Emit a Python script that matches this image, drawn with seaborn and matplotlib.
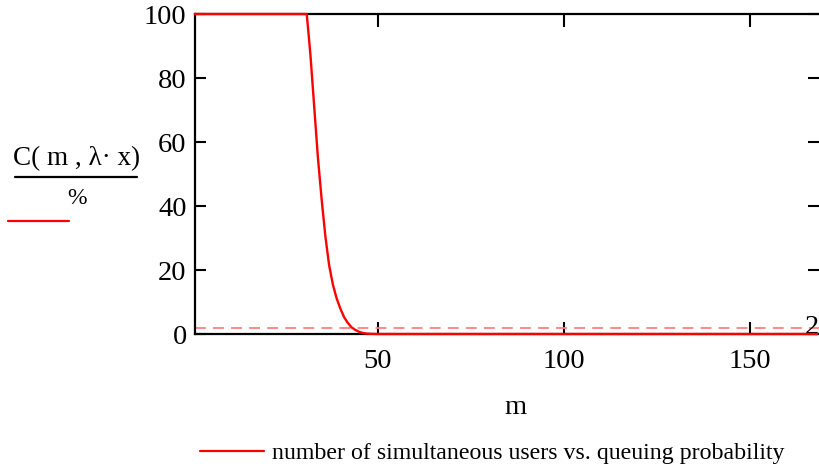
import numpy as np
import pandas as pd
import matplotlib
matplotlib.use("Agg")
import matplotlib.pyplot as plt
import seaborn as sns
from matplotlib.lines import Line2D

# number of simultaneous users m
m_values = list(range(1, 169))
# queuing probability C(m, lambda*x) in %
curve_head = [100.0] * 31  # m = 1..31
curve_drop = [87, 71, 55, 42, 30.5, 21.5, 15.5, 11.2, 8.0, 5.3, 3.5, 2.1, 1.3, 0.7,
              0.35, 0.15, 0.06, 0.02]  # m = 32..49
curve_tail = [0.0] * (168 - 31 - len(curve_drop))
c_values = curve_head + curve_drop + curve_tail
threshold = 2
x_ticks = [50, 100, 150]
y_ticks = [0, 20, 40, 60, 80, 100]
legend_label = "number of simultaneous users vs. queuing probability"

sns.set_theme(style="white")
plt.rcParams["font.family"] = ["Liberation Serif", "DejaVu Serif"]
plt.rcParams["text.color"] = "black"
plt.rcParams["xtick.color"] = "black"
plt.rcParams["ytick.color"] = "black"

df = pd.DataFrame({"m": m_values, "C": c_values})

W, H = 820, 468
fig = plt.figure(figsize=(W / 100, H / 100), dpi=100)
ax = fig.add_axes([195 / W, 1 - 334 / H, (819 - 195) / W, (334 - 14) / H])

sns.lineplot(data=df, x="m", y="C", ax=ax, color="#ff0000", linewidth=1.7)
for ln in ax.get_lines():
    ln.set_zorder(5)
    ln.set_clip_on(False)
ax.axhline(threshold, color="#ff7f7f", linewidth=1.3, linestyle=(0, (6, 4)), zorder=1)

ax.set_xlim(1, 168.5)
ax.set_ylim(0, 100)
ax.set_xticks(x_ticks)
ax.set_yticks(y_ticks)
ax.set_xticklabels([str(t) for t in x_ticks], fontsize=20.5, color="black")
ax.set_yticklabels([str(t) for t in y_ticks], fontsize=20.5, color="black")
ax.tick_params(axis="x", direction="in", length=9, width=1.5, top=True, bottom=True, pad=11, colors="black")
ax.tick_params(axis="y", direction="in", length=8, width=1.5, left=True, right=True, pad=6, colors="black")
ax.set_xlabel("")
ax.set_ylabel("")
for side in ["left", "bottom", "top"]:
    ax.spines[side].set_visible(True)
    ax.spines[side].set_color("black")
    ax.spines[side].set_linewidth(1.6)
ax.spines["right"].set_visible(False)
ax.grid(False)

# threshold label
ax.text(1.0, threshold, str(threshold), transform=ax.get_yaxis_transform(),
        fontsize=20.5, ha="right", va="center", color="black")

# x label
fig.text(515 / W, 1 - 407 / H, "m", fontsize=20.5, ha="center", va="center", color="black")

# y label as a fraction
fig.text(77 / W, 1 - 159 / H, "C( m , λ· x)", fontsize=19.5, ha="center", va="center", color="black")
fig.add_artist(Line2D([15 / W, 137 / W], [1 - 177 / H, 1 - 177 / H], color="black", linewidth=1.6))
fig.text(77 / W, 1 - 198 / H, "%", fontsize=17, ha="center", va="center", color="black")
fig.add_artist(Line2D([8 / W, 69 / W], [1 - 221 / H, 1 - 221 / H], color="#ff0000", linewidth=1.6))

# bottom legend
fig.add_artist(Line2D([200 / W, 264 / W], [1 - 451 / H, 1 - 451 / H], color="#ff0000", linewidth=1.6))
fig.text(272 / W, 1 - 453 / H, legend_label, fontsize=17.2, ha="left", va="center", color="black")

fig.savefig("out.png", dpi=100)
